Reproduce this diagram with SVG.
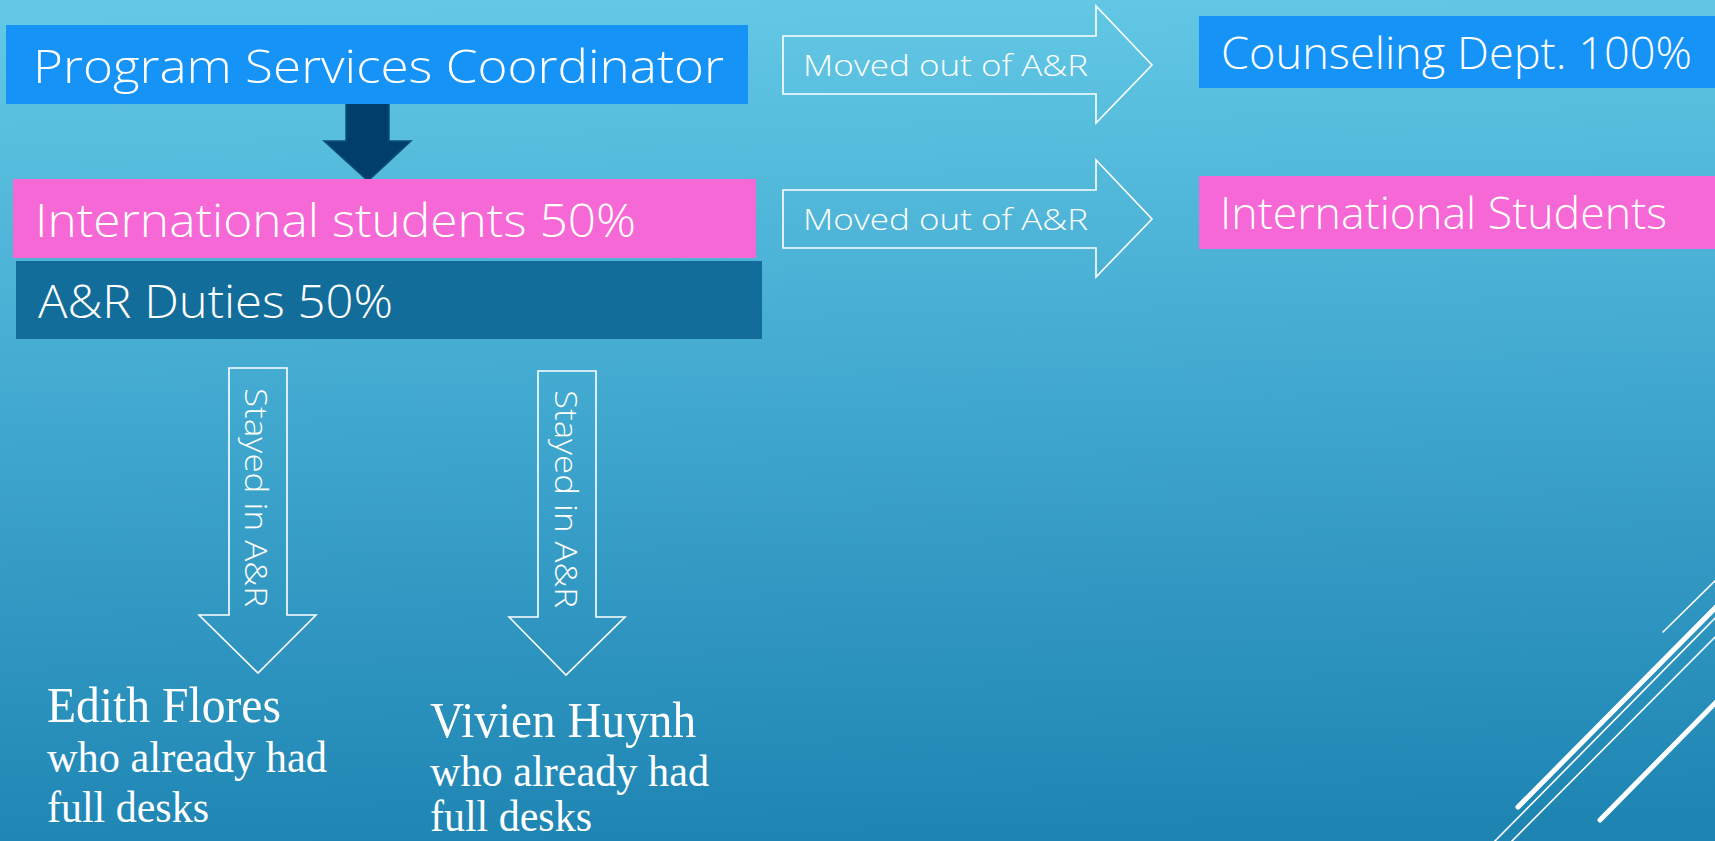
<svg xmlns="http://www.w3.org/2000/svg" width="1715" height="841" viewBox="0 0 1715 841">
<defs>
<linearGradient id="bg" x1="0.45" y1="0" x2="0.5" y2="1">
<stop offset="0" stop-color="#63C8E5"/>
<stop offset="0.5" stop-color="#3FA6CE"/>
<stop offset="1" stop-color="#1E84B2"/>
</linearGradient>
</defs>
<style>
.sans{font-family:"Open Sans","Lato","Liberation Sans",sans-serif;font-weight:300;fill:#fff}
.serif{font-family:"Liberation Serif","Times New Roman",serif;fill:#fff}
.outline{fill:none;stroke:#fff;stroke-width:1.6;stroke-linejoin:miter}
.deco{stroke:#fff;fill:none;stroke-linecap:round}
</style>
<rect x="0" y="0" width="1715" height="841" fill="url(#bg)"/>

<g id="decor">
<line class="deco" x1="1663" y1="632" x2="1730" y2="566" stroke-width="1.6"/>
<line class="deco" x1="1518" y1="807" x2="1730" y2="593" stroke-width="5"/>
<line class="deco" x1="1490" y1="846" x2="1730" y2="603" stroke-width="1.6"/>
<line class="deco" x1="1507" y1="846" x2="1730" y2="622" stroke-width="1.6"/>
<line class="deco" x1="1600" y1="820" x2="1730" y2="688" stroke-width="5"/>
</g>

<g id="connectors">
<polygon points="346,102 389,102 389,141 411,141 368,181 324,141 346,141" fill="#003F6C" stroke="#0D5276" stroke-width="1.5"/>
<g id="arrow-counseling">
<polygon class="outline" points="783,36 1096,36 1096,6 1152,65 1096,123 1096,94 783,94"/>
<text class="sans" x="803" y="76" font-size="29" textLength="285" lengthAdjust="spacingAndGlyphs">Moved out of A&amp;R</text>
</g>
<g id="arrow-intl">
<polygon class="outline" points="783,190 1096,190 1096,160 1152,219 1096,277 1096,248 783,248"/>
<text class="sans" x="803" y="230" font-size="29" textLength="285" lengthAdjust="spacingAndGlyphs">Moved out of A&amp;R</text>
</g>
<g id="arrow-edith">
<polygon class="outline" points="229,368 287,368 287,615 316,615 258,673 199,615 229,615"/>
<text class="sans" transform="translate(245,388) rotate(90)" x="0" y="0" font-size="31" textLength="219" lengthAdjust="spacingAndGlyphs">Stayed in A&amp;R</text>
</g>
<g id="arrow-vivien">
<polygon class="outline" points="538,371 596,371 596,617 625,617 566,675 509,617 538,617"/>
<text class="sans" transform="translate(555,390) rotate(90)" x="0" y="0" font-size="31" textLength="218" lengthAdjust="spacingAndGlyphs">Stayed in A&amp;R</text>
</g>
</g>

<g id="program-services">
<rect x="6" y="25" width="742" height="79" fill="#1593F6"/>
<text class="sans" x="33" y="83" font-size="46" textLength="691" lengthAdjust="spacingAndGlyphs">Program Services Coordinator</text>
</g>

<g id="intl-50">
<rect x="13" y="179" width="743" height="79" fill="#F568D5"/>
<text class="sans" x="35" y="237" font-size="46" textLength="601" lengthAdjust="spacingAndGlyphs">International students 50%</text>
</g>

<g id="ar-duties">
<rect x="16" y="261" width="746" height="78" fill="#126D9A"/>
<text class="sans" x="38" y="318" font-size="46" textLength="355" lengthAdjust="spacingAndGlyphs">A&amp;R Duties 50%</text>
</g>

<g id="counseling">
<rect x="1199" y="16" width="516" height="72" fill="#1593F6"/>
<text class="sans" x="1221" y="69" font-size="44" textLength="471" lengthAdjust="spacingAndGlyphs">Counseling Dept. 100%</text>
</g>

<g id="intl-students">
<rect x="1199" y="176" width="516" height="73" fill="#F568D5"/>
<text class="sans" x="1220" y="229" font-size="44" textLength="447" lengthAdjust="spacingAndGlyphs">International Students</text>
</g>

<g id="edith">
<text class="serif" x="47" y="722" font-size="50" textLength="234" lengthAdjust="spacingAndGlyphs">Edith Flores</text>
<text class="serif" x="47" y="772" font-size="45" textLength="280" lengthAdjust="spacingAndGlyphs">who already had</text>
<text class="serif" x="47" y="822" font-size="45" textLength="162" lengthAdjust="spacingAndGlyphs">full desks</text>
</g>

<g id="vivien">
<text class="serif" x="430" y="737" font-size="50" textLength="266" lengthAdjust="spacingAndGlyphs">Vivien Huynh</text>
<text class="serif" x="430" y="786" font-size="45" textLength="279" lengthAdjust="spacingAndGlyphs">who already had</text>
<text class="serif" x="430" y="831" font-size="44" textLength="162" lengthAdjust="spacingAndGlyphs">full desks</text>
</g>
</svg>
